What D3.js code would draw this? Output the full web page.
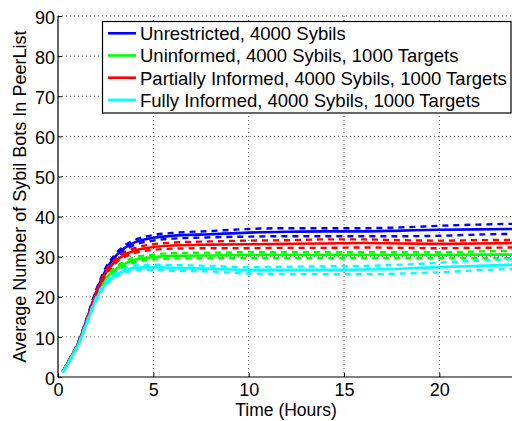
<!DOCTYPE html>
<html><head><meta charset="utf-8">
<script src="https://d3js.org/d3.v7.min.js"></script>
<style>
body{margin:0;background:#fff;overflow:hidden}
text{font-family:"Liberation Sans",Arial,sans-serif;fill:#000}
</style></head>
<body><svg id="c" width="512" height="421"></svg>
<script>
const time = [0.25,0.5,0.75,1,1.5,2,2.5,3,3.5,4,5,6,8,10,12,14,16,18,20,22,24];

const unrestrictedMean  = [1.3,3.4,5.5,7.8,14.2,21.2,26.6,30.0,32.2,33.5,34.7,35.2,35.6,36.0,36.2,36.3,36.3,36.5,36.7,36.8,36.9];
const unrestrictedUpper = [1.4,3.6,5.7,8.1,14.6,21.7,27.2,30.6,32.8,34.1,35.4,35.9,36.4,36.9,37.1,37.1,37.1,37.3,37.7,38.0,38.2];
const unrestrictedLower = [1.2,3.2,5.3,7.5,13.8,20.7,26.0,29.4,31.6,32.9,34.0,34.5,34.8,35.0,35.1,35.1,35.1,35.1,35.2,35.5,35.7];

const uninformedMean  = [1.3,3.3,5.4,7.6,13.7,20.0,24.4,26.8,28.2,29.2,29.9,30.2,30.3,30.4,30.4,30.4,30.4,30.4,30.4,30.5,30.5];
const uninformedUpper = [1.4,3.4,5.6,7.8,14.0,20.4,24.9,27.3,28.8,29.8,30.5,30.9,31.0,31.1,31.1,31.1,31.1,31.1,31.1,31.3,31.5];
const uninformedLower = [1.2,3.2,5.2,7.4,13.4,19.6,23.9,26.3,27.6,28.6,29.3,29.5,29.6,29.6,29.6,29.6,29.6,29.6,29.6,29.6,29.6];

const partialMean  = [1.3,3.4,5.5,7.7,14.0,20.7,25.9,28.8,30.5,31.5,32.4,32.8,33.0,33.1,33.2,33.3,33.4,33.3,33.2,33.3,33.4];
const partialUpper = [1.4,3.5,5.7,7.9,14.3,21.1,26.4,29.3,31.1,32.1,33.1,33.5,33.8,34.0,34.1,34.3,34.3,34.1,34.0,34.1,34.2];
const partialLower = [1.2,3.3,5.3,7.5,13.7,20.3,25.4,28.3,29.9,30.9,31.7,32.0,32.1,32.1,32.2,32.2,32.3,32.2,32.1,32.2,32.3];

const fullyMean  = [1.2,3.2,5.3,7.4,13.4,19.4,23.3,25.3,26.5,27.2,27.4,27.2,27.0,26.7,26.7,26.7,26.8,27.0,27.4,27.7,28.0];
const fullyUpper = [1.3,3.3,5.5,7.6,13.7,19.8,23.8,25.8,27.0,27.8,28.0,27.9,27.7,27.4,27.5,27.6,27.7,28.0,28.5,29.0,29.4];
const fullyLower = [1.1,3.1,5.1,7.2,13.1,19.0,22.8,24.8,26.0,26.6,26.7,26.5,26.3,25.8,25.7,25.6,25.6,25.8,26.1,26.6,27.0];

const seriesNames = ["Unrestricted, 4000 Sybils","Uninformed, 4000 Sybils, 1000 Targets","Partially Informed, 4000 Sybils, 1000 Targets","Fully Informed, 4000 Sybils, 1000 Targets"];
const seriesColors = ["#0000ff","#00ff00","#ff0000","#00ffff"];
const xTicks = [0,5,10,15,20];
const yTicks = [0,10,20,30,40,50,60,70,80,90];

const series = [
  {name:seriesNames[0], color:seriesColors[0], mean:unrestrictedMean, upper:unrestrictedUpper, lower:unrestrictedLower},
  {name:seriesNames[1], color:seriesColors[1], mean:uninformedMean, upper:uninformedUpper, lower:uninformedLower},
  {name:seriesNames[2], color:seriesColors[2], mean:partialMean, upper:partialUpper, lower:partialLower},
  {name:seriesNames[3], color:seriesColors[3], mean:fullyMean, upper:fullyUpper, lower:fullyLower}
];

const L=58, R=515.6, T=16, B=377;
const svg = d3.select("#c");
const x = d3.scaleLinear().domain([0,24]).range([L,R]);
const y = d3.scaleLinear().domain([0,90]).range([B,T]);

// grid
const g = svg.append("g");
g.selectAll(".gx").data(xTicks.slice(1)).enter().append("line")
  .attr("x1",d=>x(d)).attr("x2",d=>x(d)).attr("y1",B).attr("y2",T)
  .attr("stroke","#555").attr("stroke-width",1).attr("stroke-dasharray","1,3");
g.selectAll(".gy").data(yTicks.slice(1)).enter().append("line")
  .attr("x1",L).attr("x2",R).attr("y1",d=>y(d)).attr("y2",d=>y(d))
  .attr("stroke","#555").attr("stroke-width",1).attr("stroke-dasharray","1,3");

// lines
const line = d3.line().x((d,i)=>x(time[i])).y(d=>y(d)).curve(d3.curveMonotoneX);
const lg = svg.append("g");
series.forEach(s=>{
  [s.upper,s.lower].forEach(arr=>{
    lg.append("path").attr("d",line(arr)).attr("fill","none")
      .attr("stroke",s.color).attr("stroke-width",2.4).attr("stroke-dasharray","6,5");
  });
  lg.append("path").attr("d",line(s.mean)).attr("fill","none")
    .attr("stroke",s.color).attr("stroke-width",2.6);
});

// axes
const xAxis = d3.axisBottom(x).tickValues(xTicks).tickSize(-4).tickFormat(d3.format("d"));
const yAxis = d3.axisLeft(y).tickValues(yTicks).tickSize(-4).tickPadding(3).tickFormat(d3.format("d"));
const ax = svg.append("g").attr("transform",`translate(0,${B})`).call(xAxis);
const ay = svg.append("g").attr("transform",`translate(${L},0)`).call(yAxis);
[ax,ay].forEach(a=>{
  a.select(".domain").attr("stroke","#000").attr("stroke-width",1.2);
  a.selectAll(".tick line").attr("stroke","#000");
  a.selectAll("text").style("font-family","Liberation Sans, Arial, sans-serif").style("font-size","18px").attr("fill","#000");
});
ax.selectAll(".tick text").attr("y",19).attr("dy",null);
ay.selectAll(".tick text").attr("dy","0.4em");
ax.select(".domain").attr("d",`M${L},0H${R}`);
ay.select(".domain").attr("d",`M0,${B}V${T}`);

svg.append("text").attr("x",286).attr("y",416).attr("text-anchor","middle")
  .style("font-size","17.5px").text("Time (Hours)");
svg.append("text").attr("transform",`translate(26,${(T+B)/2}) rotate(-90)`).attr("text-anchor","middle")
  .style("font-size","18px").text("Average Number of Sybil Bots In PeerList");

// legend
const leg = svg.append("g");
leg.append("rect").attr("x",102.5).attr("y",21.5).attr("width",408.5).attr("height",91.5)
  .attr("fill","#fff").attr("stroke","#000").attr("stroke-width",1.2);
series.forEach((s,i)=>{
  const yy = 33.3 + i*22.2;
  leg.append("line").attr("x1",108).attr("x2",136).attr("y1",yy).attr("y2",yy)
    .attr("stroke",s.color).attr("stroke-width",2.6);
  leg.append("text").attr("x",140).attr("y",yy+6.8).style("font-size","18.5px").text(s.name);
});
</script></body></html>
